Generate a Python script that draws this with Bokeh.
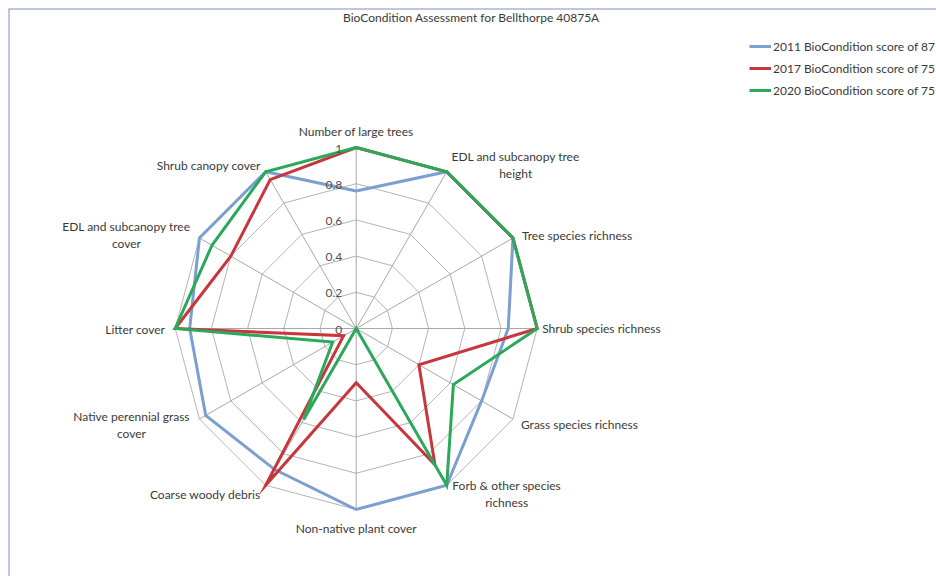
import numpy as np
from bokeh.plotting import figure
from bokeh.models import Range1d, Legend, LegendItem, Label, ColumnDataSource, Span
from bokeh.core.properties import value
from bokeh.embed import file_html
from bokeh.resources import INLINE

# ---------------- data ----------------
title = "BioCondition Assessment for Bellthorpe 40875A"
categories = [
    "Number of large trees",
    "EDL and subcanopy tree\nheight",
    "Tree species richness",
    "Shrub species richness",
    "Grass species richness",
    "Forb & other species\nrichness",
    "Non-native plant cover",
    "Coarse woody debris",
    "Native perennial grass\ncover",
    "Litter cover",
    "EDL and subcanopy tree\ncover",
    "Shrub canopy cover",
]
series_names = [
    "2011 BioCondition score of 87",
    "2017 BioCondition score of 75",
    "2020 BioCondition score of 75",
]
s2011 = [0.76, 1.0, 1.0, 0.84, 0.80, 1.0, 1.0, 0.90, 0.96, 0.92, 1.0, 1.0]
s2017 = [1.0, 1.0, 1.0, 1.0, 0.40, 0.87, 0.30, 1.0, 0.08, 1.0, 0.80, 0.95]
s2020 = [1.0, 1.0, 1.0, 1.0, 0.62, 1.0, 0.0, 0.58, 0.15, 1.0, 0.92, 1.0]
ticks = [0, 0.2, 0.4, 0.6, 0.8, 1.0]
tick_labels = ["0", "0.2", "0.4", "0.6", "0.8", "1"]

# ---------------- styles ----------------
colors = ["#7b9fcf", "#c8363d", "#2ba85a"]
FONT = "Lato"
TXT = "#3a3a3a"
# per-category label placement: (align, dx px, dy px) from the outer vertex
label_style = [
    ("center", 0, -16),
    ("center", 69, -7),
    ("left", 9, -3),
    ("left", 5, 0),
    ("left", 8, 5),
    ("center", 60, 9),
    ("center", 0, 19),
    ("right", -5, 9),
    ("center", -68, 6),
    ("right", -10, 1),
    ("center", -73, -3),
    ("right", -5, -6),
]

W, H = 936, 576
ML, MT = 8, 8                 # chart-area border inset
FW, FH = W - ML, H - MT       # frame size
SCALE = 181.0                 # px per unit radius
CX, CY = 347.7, 320.0         # centre inside the frame (px from left / top)

xr = Range1d(-CX / SCALE, (FW - CX) / SCALE)
yr = Range1d(-(FH - CY) / SCALE, CY / SCALE)
p = figure(width=W, height=H, output_backend="svg", toolbar_location=None,
           x_range=xr, y_range=yr,
           x_axis_location=None, y_axis_location=None,
           min_border=0, min_border_left=ML, min_border_top=MT)
p.grid.visible = False
p.outline_line_color = None
p.background_fill_color = "white"
p.border_fill_color = "white"

# chart-area border (only left and top fall inside the window)
p.add_layout(Span(location=xr.start, dimension="height", line_color="#7f8fc6", line_width=2))
p.add_layout(Span(location=yr.end, dimension="width", line_color="#7f8fc6", line_width=2))

n = len(categories)
ang = np.arange(n) * 2 * np.pi / n
sx, cy = np.sin(ang), np.cos(ang)

# rings
ring_xs, ring_ys = [], []
for t in ticks[1:]:
    ring_xs.append(list(np.append(t * sx, t * sx[0])))
    ring_ys.append(list(np.append(t * cy, t * cy[0])))
p.multi_line(ring_xs, ring_ys, line_color="#b4b4b4", line_width=1)
# spokes
p.multi_line([[0, x] for x in sx], [[0, y] for y in cy], line_color="#a8a8a8", line_width=1)

# series
renderers = []
for vals, col in zip([s2011, s2017, s2020], colors):
    v = np.array(vals)
    xs = np.append(v * sx, v[0] * sx[0])
    ys = np.append(v * cy, v[0] * cy[0])
    r = p.line(xs, ys, line_color=col, line_width=3, line_join="miter")
    renderers.append(r)

# tick labels
p.text(x=[0] * len(ticks), y=ticks, text=tick_labels, x_offset=-14, y_offset=1,
       text_align="right", text_baseline="middle", text_font=value(FONT),
       text_font_size="12px", text_color="#505050")

# category labels
src = ColumnDataSource(dict(
    x=list(sx), y=list(cy), text=categories,
    align=[s[0] for s in label_style],
    dx=[s[1] for s in label_style],
    dy=[s[2] for s in label_style],
))
p.text(x="x", y="y", text="text", source=src, x_offset="dx", y_offset="dy",
       text_align="align", text_baseline="middle", text_font=value(FONT),
       text_font_size="12px", text_color=TXT, text_line_height=1.15)

# title
p.add_layout(Label(x=463, y=FH - 9, x_units="screen", y_units="screen", text=title,
                   text_align="center", text_baseline="middle", text_font=FONT,
                   text_font_size="12px", text_color=TXT))

# legend
legend = Legend(items=[LegendItem(label=nm, renderers=[r]) for nm, r in zip(series_names, renderers)],
                location=(741, FH - 28 - 64), orientation="vertical",
                glyph_width=22, glyph_height=20, label_height=20, spacing=2,
                label_standoff=2, padding=0, margin=0,
                label_text_font=FONT, label_text_font_size="12px", label_text_color=TXT,
                border_line_color=None, background_fill_alpha=0)
p.add_layout(legend)

open("out.html", "w").write(file_html(p, INLINE))
